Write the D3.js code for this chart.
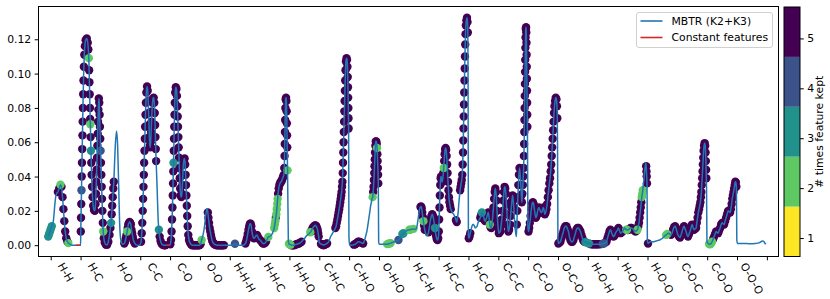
<!DOCTYPE html>
<html>
<head>
<meta charset="utf-8">
<script src="https://cdn.jsdelivr.net/npm/d3@7"></script>
<style>
body { margin: 0; background: #fff; }
svg text { font-family: "DejaVu Sans", sans-serif; font-size: 10.8px; fill: #000; }
</style>
</head>
<body>
<div id="chart"></div>
<script>
// section labels along the x axis
const categories = ["H-H", "H-C", "H-O", "C-C", "C-O", "O-O",
    "H-H-H", "H-H-C", "H-H-O", "C-H-C", "C-H-O", "O-H-O",
    "H-C-H", "H-C-C", "H-C-O", "C-C-C", "C-C-O", "O-C-O",
    "H-O-H", "H-O-C", "H-O-O", "C-O-C", "C-O-O", "O-O-O"];
const keptLevels = [1, 2, 3, 4, 5];
const yTicks = [0, 0.02, 0.04, 0.06, 0.08, 0.10, 0.12];
const legendLabels = ["MBTR (K2+K3)", "Constant features"];
// [section, from, to] in feature index within the section
const constantRanges = [[0, 84, 100], [3, 87.5, 98.5]];

// each point: [feature index in section (0-100), value, times kept (0 = never)]
const pHH = [[-8.4,0.005,3],[-5.5,0.0065,3],[-2.5,0.008,3],[0.5,0.0095,3],[3.5,0.011,3],[6.7,0.012,0],[10,0.016,0],[13.4,0.023,0],[16.5,0.028,0],[19.5,0.030,0],[24,0.031,5],[28.5,0.033,5],[32.6,0.0352,2],[36,0.034,5],[39.5,0.028,5],[42.5,0.021,5],[45.5,0.014,5],[48.5,0.008,5],[52,0.004,5],[56,0.002,5],[59,0.0012,2],[64,0.0006,0],[70,0,0],[84,0,0],[99.5,0,0]];
const pHC = [[0,0,0],[0.7,0.008,5],[1.5,0.016,5],[2.3,0.024,5],[3.1,0.032,4],[3.9,0.040,5],[4.7,0.048,5],[5.5,0.056,5],[6.3,0.064,5],[7.1,0.072,5],[7.9,0.080,5],[8.8,0.088,5],[9.8,0.096,5],[11,0.104,5],[12.5,0.111,5],[14.5,0.116,5],[17,0.1195,5],[20.8,0.1205,5],[24,0.118,5],[26,0.114,5],[27.5,0.109,2],[28.6,0.102,5],[29.6,0.095,5],[30.5,0.088,5],[31.4,0.080,5],[32.2,0.0735,5],[32.9,0.0705,2],[33.7,0.063,5],[34.8,0.055,3],[35.9,0.048,5],[37.1,0.041,5],[38.5,0.034,5],[40.2,0.028,5],[42.3,0.023,5],[45,0.0205,5],[47.7,0.020,5],[50,0.024,5],[51.5,0.030,5],[52.8,0.037,5],[54,0.044,5],[55.2,0.051,5],[56.3,0.058,5],[57.4,0.065,5],[58.5,0.072,5],[59.6,0.079,5],[61.1,0.0855,5],[62.6,0.083,5],[63.8,0.076,5],[64.9,0.069,5],[66,0.062,5],[67.1,0.055,4],[68.3,0.048,5],[69.5,0.041,5],[70.7,0.034,5],[71.9,0.027,5],[73.2,0.020,5],[74.5,0.013,5],[75.8,0.008,2],[78,0.004,5],[81,0.0015,5],[85,0.0003,5],[89,0.0003,5],[93,0.002,5],[97,0.006,5]];
const pHO = [[0,0.010,5],[2.3,0.013,3],[4.2,0.018,5],[6,0.023,5],[7.8,0.028,5],[9.6,0.033,5],[11.4,0.037,5],[13.5,0.046,0],[16.4,0.058,0],[20.5,0.0665,0],[24.2,0.058,0],[27.5,0.036,0],[30.9,0.013,0],[34.9,0.003,0],[41.6,0.0005,0],[46.6,0.001,5],[49,0.002,5],[51.7,0.004,5],[54,0.006,5],[56,0.008,2],[58,0.010,5],[60,0.012,5],[62.2,0.013,5],[64.4,0.0135,5],[66.5,0.013,5],[68.5,0.012,5],[70.6,0.009,5],[72.8,0.007,5],[74.8,0.005,5],[76.8,0.003,5],[79.3,0.002,5],[81.9,0.001,5],[88.6,0,0],[98.7,0,0]];
const pCC = [[2.7,0.002,5],[5,0.007,5],[6.8,0.013,5],[8.3,0.020,5],[9.6,0.027,5],[10.8,0.034,5],[12,0.041,5],[13.1,0.048,5],[14.2,0.055,5],[15.3,0.062,5],[16.4,0.069,5],[17.6,0.076,5],[18.9,0.083,5],[20.5,0.089,5],[22.8,0.0925,5],[25,0.090,5],[26.7,0.084,5],[28,0.077,5],[29.3,0.070,5],[30.6,0.063,5],[32.2,0.058,5],[33.6,0.057,5],[35,0.060,5],[36.4,0.066,5],[37.8,0.072,5],[39.3,0.078,5],[41,0.083,5],[43,0.0855,5],[45,0.086,5],[47,0.083,5],[48.6,0.077,5],[49.8,0.070,5],[50.9,0.063,5],[52,0.056,5],[53.2,0.049,5],[54.5,0.043,0],[56,0.036,0],[58,0.025,0],[60.3,0.014,0],[62.4,0.009,3],[65,0.005,5],[68,0.0025,5],[71,0.001,5],[75,0.0003,5],[80,0,5],[84,0,5],[87.5,0,0],[99,0,0]];
const pCO = [[0.8,0.0005,5],[3,0.003,5],[5,0.008,5],[6.6,0.015,5],[7.9,0.022,5],[9,0.029,5],[10,0.036,5],[10.8,0.043,5],[11.5,0.048,3],[12.3,0.055,5],[13.1,0.062,5],[13.9,0.069,5],[14.8,0.076,5],[15.8,0.083,5],[17.2,0.089,5],[19.1,0.092,5],[21.2,0.091,5],[22.9,0.087,5],[24.3,0.081,5],[25.5,0.075,5],[26.6,0.069,5],[27.7,0.063,5],[28.8,0.057,5],[29.9,0.051,5],[31,0.045,5],[32.3,0.039,5],[33.8,0.033,5],[35.6,0.029,5],[37.6,0.028,5],[39.5,0.030,5],[41.2,0.035,5],[42.8,0.041,5],[44.5,0.047,5],[46.6,0.050,5],[48.6,0.0505,5],[50.5,0.047,5],[52,0.041,5],[53.4,0.035,5],[54.7,0.029,5],[56,0.023,5],[57.4,0.017,5],[59,0.011,5],[61,0.006,5],[63.5,0.003,5],[66.4,0.0015,5],[70,0.0005,5],[74,0,5],[78,0,5],[82,0,5],[86,0,5],[90,0,5],[94,0,5],[98,0,5]];
const pOO = [[2,0.0005,5],[5.7,0.003,2],[9,0.005,0],[11.7,0.007,0],[14.5,0.010,0],[16.8,0.013,0],[19,0.017,0],[20.8,0.019,0],[22.6,0.0207,0],[24.5,0.0213,0],[26.5,0.019,5],[28.5,0.016,5],[30.5,0.013,5],[32.6,0.010,5],[34.7,0.008,5],[36.9,0.006,5],[39,0.004,5],[41.3,0.0025,5],[43.7,0.0015,5],[46,0.001,5],[49,0.0005,5],[52,0.0003,5],[56,0,5],[60.4,0,5],[64.5,0,5],[68.5,0,5],[72.5,0,5],[76.5,0,5],[80.5,0,5],[86,0,0],[92,0,0],[98,0,0]];
const pHHH = [[3,0,0],[10.7,0,0],[17.4,0.0008,4],[24.2,0,0],[44.3,0,0],[52.7,0.001,5],[55.5,0.0025,5],[57.7,0.004,5],[60.2,0.0065,5],[62.8,0.009,5],[65.3,0.011,5],[67.8,0.0125,5],[70,0.0125,5],[72.1,0.011,5],[74.2,0.008,5],[76.2,0.006,5],[78.7,0.0045,5],[81.2,0.004,5],[83.7,0.0045,5],[86.2,0.005,5],[88.7,0.0058,5],[91.3,0.006,5],[93.8,0.005,5],[96.3,0.004,5]];
const pHHC = [[1.5,0.003,5],[4.5,0.0025,5],[8.1,0.0015,5],[11.5,0.001,5],[14.8,0.001,5],[18,0.0012,5],[21.5,0.002,5],[25.3,0.0035,0],[29.2,0.0048,2],[33,0.005,0],[36.6,0.0055,0],[40,0.006,0],[43.3,0.007,0],[46.3,0.0085,0],[49,0.010,2],[51,0.012,2],[52.7,0.014,2],[54.4,0.016,4],[56,0.018,2],[57.6,0.021,2],[59.1,0.024,2],[60.5,0.027,2],[62,0.030,5],[64,0.033,5],[66.3,0.035,5],[68.5,0.036,5],[70.7,0.037,5],[72.8,0.037,5],[75,0.038,5],[77.2,0.039,5],[79.3,0.040,5],[81.2,0.041,5],[82.7,0.045,5],[83.6,0.052,5],[84.3,0.059,5],[85,0.066,5],[85.7,0.073,5],[86.4,0.080,5],[87.4,0.085,5],[88.6,0.086,5],[89.8,0.084,5],[90.7,0.078,5],[91.4,0.071,5],[92,0.064,5],[92.6,0.057,5],[93.1,0.050,0],[93.6,0.0436,2],[94.5,0.030,0],[95.5,0.015,0],[96.5,0.002,0],[98.5,0.0008,2]];
const pHHO = [[0.3,0.0005,2],[3.5,0.0003,2],[7,0,5],[11,0,5],[15.4,0,5],[19.5,0.0003,5],[23.8,0.0005,5],[28,0.0008,5],[32.2,0.001,5],[36.4,0.0015,5],[40.6,0.002,5],[45,0.003,0],[49,0.0035,0],[53,0.0045,0],[57.4,0.0055,0],[61,0.006,0],[64.1,0.0065,0],[67,0.007,0],[69.8,0.0075,2],[72.5,0.008,5],[75.2,0.009,5],[77.7,0.010,5],[80.2,0.0105,5],[82.7,0.011,5],[85.2,0.0115,5],[87.6,0.0115,5],[89.9,0.011,5],[92.1,0.010,5],[94.3,0.009,5],[96.2,0.007,5],[98,0.005,5],[99.5,0.002,0]];
const pCHC = [[2.7,0.001,0],[5.7,0.0007,5],[8.7,0.0005,5],[11.5,0.0003,5],[14.4,0,5],[17.5,0.0003,5],[20.5,0.0005,5],[23.4,0.0008,5],[26.2,0.001,5],[29,0.0015,0],[31.5,0.002,0],[34.7,0.0035,0],[37.9,0.005,0],[41.3,0.006,0],[44.6,0.007,0],[48,0.008,0],[51.3,0.009,0],[54,0.010,5],[56.4,0.011,5],[58.6,0.013,5],[60.7,0.015,5],[62.8,0.017,5],[64.8,0.019,5],[66.7,0.021,5],[68.5,0.023,5],[70.2,0.025,5],[71.8,0.027,5],[73.3,0.029,5],[74.8,0.031,5],[76.2,0.034,5],[77.5,0.037,5],[78.6,0.042,5],[79.6,0.048,5],[80.5,0.054,5],[81.4,0.060,5],[82.3,0.066,5],[83.2,0.072,5],[84.1,0.078,5],[85,0.084,5],[85.9,0.090,5],[86.9,0.096,5],[88,0.102,5],[89.4,0.107,5],[91.3,0.109,5],[93,0.108,5],[94.3,0.104,5],[95.3,0.098,5],[96.1,0.092,5],[96.8,0.086,5],[97.4,0.080,5],[97.9,0.074,5],[98.3,0.068,5],[98.8,0.040,0],[99.4,0.005,0]];
const pCHO = [[1.7,0,0],[10.1,0,0],[16,0.0003,5],[20.1,0.0005,5],[23.5,0.001,5],[26.8,0.0015,5],[30.2,0.002,5],[33.6,0.002,5],[37,0.0018,5],[40.3,0.0015,5],[43.6,0.0012,5],[47,0.001,5],[50.3,0.002,0],[53.7,0.004,0],[56.6,0.006,0],[59.4,0.008,0],[62.2,0.011,0],[64.8,0.014,0],[67.3,0.017,0],[69.8,0.020,0],[72.2,0.023,0],[74.5,0.025,0],[76.7,0.027,0],[78.9,0.028,2],[80.6,0.031,5],[81.9,0.034,5],[83.1,0.038,5],[84.2,0.042,5],[85.2,0.046,5],[86.1,0.050,5],[87,0.054,5],[88,0.058,5],[89.4,0.0605,5],[91,0.0605,5],[92.5,0.059,5],[93.6,0.0566,2],[94.6,0.053,5],[95.5,0.049,5],[96.3,0.045,5],[97,0.041,5],[97.7,0.036,5],[98.4,0.020,0],[99,0.002,0]];
const pOHO = [[0.7,0.0005,0],[7,0.0005,0],[14.1,0.0005,0],[21,0.0005,0],[27.5,0.0006,2],[31.5,0.0008,2],[35.5,0.001,2],[39.3,0.0012,2],[45,0.0016,0],[51,0.002,0],[58,0.0025,0],[65.4,0.003,4],[70,0.004,0],[74.5,0.0055,0],[78.5,0.0065,3],[82.2,0.007,3],[86,0.0075,0],[89.6,0.008,0],[93,0.0085,0],[96.3,0.0088,0]];
const pHCH = [[2,0.009,2],[4.7,0.009,2],[8,0.0092,0],[11.5,0.0093,0],[15.8,0.0095,2],[21.5,0.0092,0],[24.5,0.0095,0],[27.5,0.011,0],[30.2,0.014,0],[32.6,0.017,0],[35,0.020,0],[37.2,0.0215,0],[39.2,0.0223,5],[41.2,0.0225,5],[43.1,0.0215,5],[45,0.019,5],[47,0.0165,5],[49,0.014,2],[51.2,0.0115,5],[53.4,0.009,5],[55.9,0.007,0],[58.4,0.006,0],[61,0.0055,0],[63.4,0.006,0],[66,0.0075,5],[68.5,0.010,5],[71,0.013,5],[73.5,0.0155,5],[76,0.017,5],[78.5,0.018,5],[81,0.017,5],[83.2,0.015,5],[85.4,0.0125,5],[87.6,0.010,3],[89.8,0.007,5],[91.9,0.005,5],[94,0.0035,5],[96.3,0.003,5],[98.5,0.004,5]];
const pHCC = [[0.5,0.008,5],[1.7,0.015,5],[2.9,0.022,5],[4.1,0.029,5],[5.4,0.035,5],[6.8,0.039,5],[8.1,0.040,5],[9.6,0.039,5],[11.1,0.037,5],[12.6,0.037,5],[14.1,0.039,5],[15.6,0.042,5],[17.1,0.045,2],[18.6,0.049,5],[20.1,0.053,5],[21.8,0.0558,5],[23.5,0.0566,5],[25.2,0.0555,5],[26.8,0.052,5],[28.4,0.047,5],[29.9,0.042,5],[31.4,0.037,5],[32.9,0.032,5],[34.5,0.028,5],[36.2,0.025,5],[38.4,0.023,5],[40.6,0.021,5],[43,0.020,0],[45.6,0.019,0],[48.1,0.0185,0],[50.7,0.018,0],[53.2,0.017,0],[55.7,0.016,0],[58.2,0.0145,5],[60.7,0.0135,5],[63.3,0.016,0],[65.8,0.020,0],[68,0.025,0],[70.1,0.029,0],[72,0.032,5],[73.8,0.034,5],[75.6,0.036,5],[77.4,0.038,5],[79.2,0.041,5],[80.6,0.047,5],[81.7,0.054,5],[82.6,0.061,5],[83.4,0.068,5],[84.2,0.075,5],[85,0.082,5],[85.8,0.089,5],[86.6,0.096,5],[87.4,0.103,5],[88.2,0.110,5],[89.1,0.117,5],[90.1,0.123,5],[91.3,0.128,5],[93,0.131,5],[95,0.1325,5],[96.8,0.130,5],[97.8,0.124,5],[98.5,0.100,0],[99.2,0.050,0],[99.8,0.006,0]];
const pHCO = [[1,0.004,5],[3.5,0.005,5],[6,0.007,5],[8.8,0.009,0],[11.7,0.011,0],[14.4,0.012,0],[17.1,0.012,0],[20,0.011,0],[22.8,0.010,0],[25.6,0.0105,0],[28.5,0.011,0],[31.2,0.0125,0],[33.9,0.014,0],[36.8,0.015,0],[39.6,0.016,5],[42.3,0.0175,5],[45,0.019,3],[47.6,0.018,5],[50.3,0.017,5],[53,0.015,5],[55.7,0.014,5],[58.4,0.015,5],[61.1,0.016,5],[63.8,0.018,5],[66.4,0.019,5],[69,0.016,5],[71.5,0.012,2],[74,0.0105,5],[76.5,0.010,5],[79,0.013,5],[81.5,0.017,5],[83.7,0.022,5],[85.9,0.027,5],[88,0.031,5],[89.9,0.033,5],[91.9,0.031,5],[93.9,0.026,5],[95.8,0.020,5],[97.7,0.014,5],[99.5,0.010,5]];
const pCCC = [[1.7,0.007,5],[4.2,0.0075,5],[6.7,0.008,5],[9.2,0.011,5],[11.7,0.015,5],[14.2,0.020,5],[16.8,0.026,5],[19,0.031,5],[21.1,0.034,5],[23.2,0.033,5],[25.2,0.030,5],[27.2,0.024,5],[29.2,0.018,5],[31.4,0.012,5],[33.6,0.008,5],[36.1,0.009,5],[38.6,0.012,5],[41.1,0.017,5],[43.6,0.022,5],[45.8,0.026,5],[48,0.029,5],[50,0.026,5],[52,0.022,5],[54.2,0.015,0],[56.4,0.010,0],[58.4,0.007,0],[60.4,0.005,0],[62.1,0.012,5],[63.8,0.020,5],[65.5,0.028,5],[67.1,0.035,5],[69.1,0.041,5],[71.1,0.045,5],[73.3,0.041,5],[75.5,0.035,5],[77.2,0.029,5],[78.9,0.025,5],[80.6,0.030,5],[82.2,0.035,5],[83.6,0.040,5],[84.9,0.045,5],[85.8,0.052,5],[86.5,0.059,5],[87.1,0.066,5],[87.7,0.073,5],[88.2,0.080,5],[88.7,0.087,5],[89.2,0.094,5],[89.7,0.101,5],[90.2,0.108,5],[90.7,0.115,5],[91.3,0.121,5],[92.1,0.126,5],[93,0.127,5],[93.8,0.124,5],[94.4,0.118,5],[94.9,0.111,5],[95.3,0.104,5],[95.7,0.097,5],[96.1,0.090,5],[96.5,0.083,5],[96.9,0.076,5],[97.3,0.069,5],[97.8,0.060,0],[98.5,0.035,0],[99.3,0.010,0]];
const pCCO = [[1.3,0.008,5],[3.5,0.010,5],[5.7,0.013,5],[8.2,0.017,5],[10.7,0.021,5],[13.2,0.024,5],[15.8,0.025,5],[18.3,0.024,5],[20.8,0.021,5],[23.3,0.018,5],[25.8,0.016,5],[28.4,0.017,5],[30.9,0.019,5],[33.4,0.021,5],[35.9,0.022,5],[38.4,0.021,5],[40.9,0.020,5],[43.4,0.019,5],[45.9,0.019,5],[48.5,0.021,5],[51,0.022,5],[53.5,0.020,5],[56,0.018,5],[58.6,0.019,5],[61.1,0.021,5],[63.6,0.024,5],[66.1,0.028,5],[68.6,0.032,5],[71.1,0.036,5],[73.3,0.039,5],[75.5,0.043,5],[77.3,0.047,5],[79,0.052,5],[80.6,0.057,5],[82.2,0.062,5],[83.7,0.067,5],[85.2,0.072,5],[86.7,0.077,5],[88.3,0.081,5],[90.2,0.084,5],[92.5,0.086,5],[94.8,0.085,5],[96.5,0.081,5],[97.6,0.074,5],[98.4,0.060,0],[99.2,0.030,0],[99.8,0.004,0]];
const pOCO = [[1.3,0.001,5],[4.7,0.0015,5],[8.1,0.002,5],[11.5,0.004,5],[14.8,0.006,5],[18.2,0.008,5],[21.5,0.010,5],[24.8,0.011,5],[28.2,0.011,5],[31.5,0.0095,5],[34.9,0.008,5],[38.2,0.005,5],[41.6,0.003,5],[45,0.002,5],[48.3,0.002,5],[51.7,0.003,5],[55,0.005,5],[58.4,0.007,5],[61.7,0.009,5],[65.1,0.010,5],[68.5,0.010,5],[71.8,0.009,5],[75.2,0.008,5],[78.5,0.006,5],[81.9,0.004,5],[85.2,0.0025,5],[88.6,0.002,5],[92,0.0018,3],[95.3,0.0015,3],[98.6,0.0012,0]];
const pHOH = [[3.7,0.001,3],[7.9,0.0007,5],[12.1,0.0005,5],[16.3,0.0005,5],[20.5,0.0005,5],[24.7,0.0005,5],[28.9,0.0005,5],[33,0.0005,5],[37.2,0.0005,5],[41.4,0.0006,5],[45.6,0.0006,5],[49.8,0.0008,4],[54,0.001,4],[58.2,0.0015,5],[62.4,0.002,5],[65.8,0.004,5],[69.1,0.006,5],[72.5,0.008,5],[75.8,0.009,5],[79.2,0.0075,5],[82.6,0.006,5],[86,0.005,5],[89.3,0.0055,5],[92.7,0.007,5],[96,0.008,5]];
const pHOC = [[0,0.009,5],[2.7,0.010,5],[6,0.0085,5],[9.4,0.007,5],[12.8,0.0075,5],[16.1,0.008,5],[19.5,0.009,0],[22.8,0.010,0],[26,0.0095,0],[28.8,0.009,2],[31.2,0.009,2],[34,0.0088,5],[36.8,0.009,5],[39.6,0.0095,5],[43,0.010,5],[46.3,0.010,5],[49.7,0.0095,5],[53,0.009,5],[56.4,0.0085,5],[59.7,0.008,5],[63,0.0085,5],[66.4,0.009,2],[69,0.011,5],[71.5,0.013,5],[73.5,0.016,5],[75.5,0.019,5],[77.4,0.022,5],[79.2,0.025,5],[80.9,0.028,2],[82.6,0.030,2],[84.2,0.032,2],[85.8,0.035,0],[87.9,0.038,0],[89.5,0.041,0],[91,0.044,0],[92.5,0.046,0],[94,0.048,0],[95.5,0.046,5],[96.5,0.043,5],[97.3,0.040,5],[98.2,0.036,5],[98.9,0.020,0],[99.6,0.003,0]];
const pHOO = [[1.7,0.001,5],[5,0.0015,0],[10.1,0.002,0],[15,0.002,0],[20.1,0.002,0],[25,0.0022,0],[30.2,0.0025,0],[35,0.0028,0],[40.3,0.003,0],[45,0.0035,0],[50.3,0.004,0],[54.5,0.0048,0],[58.7,0.0055,0],[62.5,0.006,2],[66.1,0.0065,2],[69,0.007,0],[72.1,0.0068,0],[75.5,0.0065,5],[78.9,0.006,5],[82.2,0.007,5],[85.6,0.009,5],[89,0.0105,5],[92.3,0.011,5],[95.3,0.010,5],[98.3,0.008,5]];
const pCOC = [[2.3,0.006,5],[5.7,0.005,5],[9.1,0.0045,5],[12.4,0.006,5],[15.8,0.008,5],[19.1,0.010,5],[22.5,0.011,5],[25.8,0.0095,5],[29.2,0.008,5],[32.5,0.006,5],[35.9,0.005,5],[39.2,0.0065,5],[42.6,0.008,5],[46,0.010,5],[49.3,0.012,5],[52.7,0.0105,5],[56,0.009,5],[59.4,0.0095,5],[62.8,0.010,5],[65.3,0.013,5],[67.8,0.016,5],[70.3,0.019,5],[72.8,0.021,5],[75,0.023,5],[77.2,0.025,5],[79,0.028,5],[80.5,0.031,5],[81.9,0.035,5],[83.2,0.039,5],[84.4,0.043,5],[85.6,0.047,5],[86.8,0.051,5],[88,0.055,5],[89.6,0.058,5],[91.5,0.0595,5],[93.3,0.058,5],[94.6,0.054,5],[95.6,0.049,5],[96.4,0.044,5],[97.1,0.039,5],[97.8,0.034,0],[98.6,0.015,0],[99.3,0.002,0]];
const pCOO = [[3,0.001,0],[6.3,0.0007,2],[9.7,0.0005,2],[13,0.001,2],[16.4,0.002,2],[19.8,0.0035,5],[23.2,0.005,5],[26.5,0.0065,5],[29.9,0.008,5],[33.2,0.0075,5],[36.6,0.007,5],[40,0.0085,5],[43.3,0.010,5],[46.7,0.012,5],[50,0.013,5],[53.4,0.0125,5],[56.7,0.012,5],[60,0.014,5],[63.4,0.016,5],[66.8,0.018,5],[70.1,0.020,5],[73.5,0.0195,5],[76.8,0.019,5],[79.4,0.021,5],[81.9,0.024,5],[84,0.027,5],[86.2,0.029,5],[88.3,0.031,5],[90.3,0.033,5],[92.3,0.035,5],[94.3,0.037,5],[96,0.0365,5],[97.7,0.034,5],[98.6,0.020,0],[99.3,0.003,0]];
const pOOO = [[1.3,0.001,0],[6,0.001,0],[12.1,0.001,0],[20,0.001,0],[28.9,0.001,0],[37,0.0009,0],[45.6,0.0008,0],[54,0.0009,0],[62.4,0.001,0],[69,0.0012,0],[75.8,0.0015,0],[80.5,0.002,0],[84.9,0.0025,0],[88,0.0023,0],[91,0.0018,0],[94,0.001,0],[96.3,0.0005,0]];

const sections = [pHH, pHC, pHO, pCC, pCO, pOO, pHHH, pHHC, pHHO, pCHC, pCHO, pOHO,
    pHCH, pHCC, pHCO, pCCC, pCCO, pOCO, pHOH, pHOC, pHOO, pCOC, pCOO, pOOO];

const width = 830, height = 299;
const plotLeft = 38.5, plotRight = 778.5, plotTop = 6.5, plotBottom = 256.5;
const sectionSize = 100;

const svg = d3.select("#chart")
    .append("svg")
    .attr("width", width)
    .attr("height", height);

const x = d3.scaleLinear([-41, 2439], [plotLeft, plotRight]);
const y = d3.scaleLinear([-0.0066, 0.1391], [plotBottom, plotTop]);
const color = k => d3.interpolateViridis((5 - k) / 4);

const points = sections.flatMap((sec, i) =>
    sec.map(([t, v, k]) => ({pos: i * sectionSize + t, v: v, k: k})));

svg.append("clipPath").attr("id", "clip")
    .append("rect")
    .attr("x", plotLeft).attr("y", plotTop)
    .attr("width", plotRight - plotLeft).attr("height", plotBottom - plotTop);

const plot = svg.append("g").attr("clip-path", "url(#clip)");

// kept features, purple first so the rarer ones stay visible
const kept = points.filter(d => d.k > 0).sort((a, b) => b.k - a.k);
plot.append("g").selectAll("circle")
    .data(kept)
    .join("circle")
    .attr("cx", d => x(d.pos))
    .attr("cy", d => y(d.v))
    .attr("r", 4.2)
    .attr("fill", d => color(d.k));

const line = d3.line()
    .x(d => x(d.pos))
    .y(d => y(d.v))
    .curve(d3.curveMonotoneX);

plot.append("path")
    .datum(points)
    .attr("fill", "none")
    .attr("stroke", "#1f77b4")
    .attr("stroke-width", 1.5)
    .attr("stroke-linejoin", "round")
    .attr("d", line);

plot.selectAll(".const")
    .data(constantRanges)
    .join("line")
    .attr("class", "const")
    .attr("x1", d => x(d[0] * sectionSize + d[1]))
    .attr("x2", d => x(d[0] * sectionSize + d[2]))
    .attr("y1", y(0))
    .attr("y2", y(0))
    .attr("stroke", "#d62728")
    .attr("stroke-width", 1.6);

// y axis
const yAxis = svg.append("g")
    .attr("transform", `translate(${plotLeft},0)`)
    .call(d3.axisLeft(y).tickValues(yTicks).tickFormat(d3.format(".2f")).tickSize(3.8).tickPadding(3.5));
yAxis.select(".domain").remove();
yAxis.selectAll("text").attr("font-family", null).attr("font-size", null);

// x axis: ticks at section borders, labels at section centres
const xAxis = svg.append("g")
    .attr("transform", `translate(0,${plotBottom})`)
    .call(d3.axisBottom(x).tickValues(d3.range(0, categories.length * sectionSize + 1, sectionSize)).tickFormat("").tickSize(3.8));
xAxis.select(".domain").remove();

const capH = 0.73 * 10.8;
svg.append("g").selectAll("text")
    .data(categories)
    .join("text")
    .text(d => d)
    .each(function(d, i) {
        const L = this.getComputedTextLength();
        const cx = x(i * sectionSize + sectionSize / 2);
        const ox = cx - (0.5 * L + 0.866 * capH) / 2;
        const oy = 261.5 + 0.5 * capH;
        d3.select(this).attr("transform", `translate(${ox},${oy}) rotate(60)`);
    });

svg.append("rect")
    .attr("x", plotLeft).attr("y", plotTop)
    .attr("width", plotRight - plotLeft).attr("height", plotBottom - plotTop)
    .attr("fill", "none")
    .attr("stroke", "#000")
    .attr("stroke-width", 1);

// legend
const legend = svg.append("g");
legend.append("rect")
    .attr("x", 636.5).attr("y", 12.5)
    .attr("width", 136).attr("height", 35)
    .attr("rx", 2.5)
    .attr("fill", "#fff").attr("fill-opacity", 0.8)
    .attr("stroke", "#d0d0d0");
const legendColors = ["#1f77b4", "#d62728"];
legendLabels.forEach((label, i) => {
    const ly = 21 + i * 16.5;
    legend.append("line")
        .attr("x1", 640.5).attr("x2", 662.5)
        .attr("y1", ly).attr("y2", ly)
        .attr("stroke", legendColors[i]).attr("stroke-width", 1.6);
    legend.append("text")
        .attr("x", 671.5).attr("y", ly)
        .attr("dy", "0.36em")
        .text(label);
});

// colorbar
const cbLeft = 784, cbWidth = 16;
const cb = d3.scaleLinear([0.63, 5.63], [plotBottom, 7]);
svg.append("g").selectAll("rect")
    .data(keptLevels)
    .join("rect")
    .attr("x", cbLeft)
    .attr("y", d => cb(d + 0.63))
    .attr("width", cbWidth)
    .attr("height", d => cb(d - 0.37) - cb(d + 0.63))
    .attr("fill", d => color(d));
svg.append("rect")
    .attr("x", cbLeft).attr("y", cb(5.63))
    .attr("width", cbWidth).attr("height", cb(0.63) - cb(5.63))
    .attr("fill", "none").attr("stroke", "#000").attr("stroke-width", 1);
const cbAxis = svg.append("g")
    .attr("transform", `translate(${cbLeft + cbWidth},0)`)
    .call(d3.axisRight(cb).tickValues(keptLevels).tickFormat(d3.format("d")).tickSize(3.8).tickPadding(3.5));
cbAxis.select(".domain").remove();
cbAxis.selectAll("text").attr("font-family", null).attr("font-size", null);

svg.append("text")
    .attr("transform", `translate(822.5,${(plotBottom + 7) / 2}) rotate(-90)`)
    .attr("text-anchor", "middle")
    .text("# times feature kept");
</script>
</body>
</html>
